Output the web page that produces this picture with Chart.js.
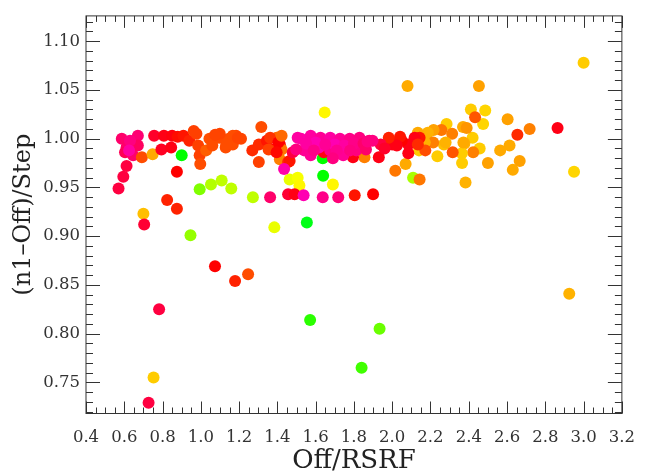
<!DOCTYPE html>
<html><head><meta charset="utf-8">
<script src="https://cdn.jsdelivr.net/npm/chart.js@4"></script>
<style>html,body{margin:0;padding:0;background:#fff}</style>
</head><body>
<canvas id="c" width="649" height="475"></canvas>
<script>
// Off/RSRF (x)
const offRsrf = [
 1.637,0.90,0.994,1.053,1.109,1.159,1.272,1.464,1.506,1.515,1.639,1.69,1.384,1.554,1.571,1.934,1.84,0.946,2.109,
 2.0,2.08,2.453,3.0,2.95,2.925,2.411,2.486,2.475,2.603,2.718,2.613,2.564,2.666,2.63,2.50,2.365,2.383,2.07,2.016,2.143,
 2.284,2.37,2.257,2.216,2.313,2.42,2.377,2.457,2.423,2.236,2.27,2.364,2.279,2.372,2.389,2.186,2.186,2.214,2.14,2.17,2.134,
 2.316,2.173,2.433,2.654,2.864,
 2.143,2.117,2.084,2.05,2.0,2.134,2.041,2.024,1.982,2.084,1.93,1.94,1.96,
 0.57,0.595,0.612,0.587,0.671,0.612,0.604,0.646,0.671,0.63,0.625,0.692,0.748,0.70,0.704,0.753,0.727,0.782,
 0.756,0.807,0.85,0.794,0.845,0.879,0.909,0.94,0.977,0.986,0.994,0.997,1.028,1.045,1.096,1.147,1.13,0.963,1.099,1.184,
 1.167,1.06,1.075,0.875,0.824,0.875,1.074,1.179,1.247,
 1.316,1.167,1.133,1.193,1.21,1.269,1.303,1.345,1.396,1.413,1.379,1.422,1.303,1.413,1.456,1.362,1.405,1.422,1.354,1.396,1.464,
 1.804,1.90,1.855,1.642,1.795,1.647,
 1.48,1.435,1.362,1.456,1.49,1.537,1.637,1.718,
 1.524,1.574,1.625,1.676,1.727,1.778,1.829,1.88,1.54,1.617,1.676,1.744,1.812,1.863,1.498,1.506,1.574,1.70,1.60,1.55,1.65,
 1.75,1.80,1.85,1.78,1.71,1.59,1.69,1.897,1.871
];
// (n1-Off)/Step (y)
const ratio = [
 0.980,0.983,0.948,0.953,0.957,0.949,0.940,0.958,0.960,0.952,0.962,0.953,0.909,0.914,0.814,0.805,0.765,0.901,0.960,
 0.994,1.054,1.054,1.078,0.966,0.841,1.030,1.029,1.015,1.020,1.010,0.993,0.988,0.977,0.968,0.975,0.975,0.955,0.974,0.967,0.958,
 1.015,1.012,1.009,1.009,1.005,1.001,0.995,0.990,0.986,0.982,0.994,0.985,0.996,0.996,1.011,0.998,1.006,0.996,0.988,0.996,1.006,
 0.986,0.988,1.022,1.004,1.011,
 1.001,1.001,0.994,0.998,0.996,0.994,1.002,0.993,1.001,0.985,0.981,0.994,0.990,
 0.949,0.961,0.972,1.000,1.003,0.991,0.986,0.983,0.993,0.998,0.988,0.981,0.984,0.923,0.912,0.755,0.729,0.825,
 1.003,1.003,1.003,0.989,0.991,1.002,1.003,0.998,1.005,0.993,0.983,0.974,0.988,1.000,1.001,1.000,0.991,1.008,1.005,1.003,
 0.994,0.993,1.004,0.966,0.937,0.928,0.869,0.854,0.861,
 1.012,1.003,0.994,1.001,1.000,0.988,0.994,0.998,1.001,0.994,0.989,0.989,0.976,0.979,0.976,1.001,0.996,1.003,0.989,0.986,0.977,
 0.942,0.943,0.981,0.986,0.981,1.027,
 0.986,0.969,0.940,0.943,0.943,0.942,0.940,0.940,
 1.000,1.003,1.001,1.001,1.000,1.000,1.001,0.998,0.988,0.991,0.988,0.983,0.988,0.989,0.989,1.001,0.983,0.994,0.996,0.995,0.994,
 0.993,0.995,0.995,0.988,0.988,0.988,0.980,0.998,0.997
];
// colour quantity (hue, degrees)
const colourHue = [
 120,120,90,78,75,75,75,65,62,58,120,58,65,125,110,95,105,85,80,
 355,40,38,48,50,42,48,50,50,38,30,40,40,38,40,38,48,42,40,28,28,
 48,40,28,38,30,48,42,48,30,48,45,48,42,40,35,40,42,30,48,42,40,
 20,18,20,10,355,
 5,355,355,0,355,10,5,355,8,355,355,345,350,
 345,345,345,335,333,335,340,335,338,330,322,18,40,45,348,48,345,345,
 350,355,357,352,355,3,5,8,15,15,15,18,22,18,18,18,18,15,16,16,
 18,18,16,0,8,8,0,8,18,
 18,18,18,16,16,10,10,5,25,0,2,28,15,30,10,12,0,25,15,2,5,
 5,0,30,355,355,58,
 345,320,335,348,355,318,328,332,
 320,322,325,322,325,328,330,332,325,320,328,325,330,335,330,322,325,318,318,322,325,
 322,328,335,330,326,328,330,330,330
];
const xTickValues = [0.4,0.6,0.8,1.0,1.2,1.4,1.6,1.8,2.0,2.2,2.4,2.6,2.8,3.0,3.2];
const yTickValues = [0.75,0.80,0.85,0.90,0.95,1.00,1.05,1.10];

const points = offRsrf.map((x, i) => ({x: x, y: ratio[i]}));
const colours = colourHue.map(h => `hsl(${h},100%,50%)`);

const FONT = "'DejaVu Serif', serif";
const INK = '#333';

const frameTicks = {
  id: 'frameTicks',
  afterDraw(chart) {
    const {ctx, chartArea: a, scales: {x, y}} = chart;
    ctx.save();
    ctx.strokeStyle = INK;
    ctx.lineWidth = 1;
    ctx.beginPath();
    for (let k = 0; k <= 56; k++) {
      const v = 0.4 + k * 0.05;
      const px = Math.round(x.getPixelForValue(v)) + 0.5;
      const len = (k % 4 === 0) ? 12 : 6;
      ctx.moveTo(px, a.bottom); ctx.lineTo(px, a.bottom - len);
      ctx.moveTo(px, a.top); ctx.lineTo(px, a.top + len);
    }
    for (let k = 72; k <= 112; k++) {
      const v = k / 100;
      const py = Math.round(y.getPixelForValue(v)) + 0.5;
      const len = (k % 5 === 0) ? 14 : 7;
      ctx.moveTo(a.left, py); ctx.lineTo(a.left + len, py);
      ctx.moveTo(a.right, py); ctx.lineTo(a.right - len, py);
    }
    ctx.stroke();
    ctx.strokeRect(a.left, a.top, a.right - a.left, a.bottom - a.top);
    ctx.restore();
  }
};

new Chart(document.getElementById('c'), {
  type: 'scatter',
  data: { datasets: [{
    data: points,
    pointBackgroundColor: colours,
    pointBorderWidth: 0,
    pointRadius: 6,
    pointHoverRadius: 6
  }]},
  options: {
    responsive: false,
    devicePixelRatio: 1,
    animation: false,
    events: [],
    layout: { padding: { top: 9.5, right: 13, left: 0, bottom: 0 } },
    plugins: { legend: { display: false }, tooltip: { enabled: false } },
    scales: {
      x: {
        type: 'linear', min: 0.4, max: 3.2,
        afterBuildTicks: s => { s.ticks = xTickValues.map(v => ({value: v})); },
        afterFit: s => { s.height = 61.5; },
        grid: { display: false, drawTicks: false },
        border: { display: false },
        ticks: { autoSkip: false, maxRotation: 0, padding: 14, color: INK,
                 font: { family: FONT, size: 16.5 },
                 callback: v => Number(v).toFixed(1) },
        title: { display: true, text: 'Off/RSRF', color: '#222',
                 font: { family: FONT, size: 26, lineHeight: 1 }, padding: { top: 0, bottom: 1 } }
      },
      y: {
        type: 'linear', min: 0.718, max: 1.126,
        afterBuildTicks: s => { s.ticks = yTickValues.map(v => ({value: v})); },
        afterFit: s => { s.width = 86; },
        grid: { display: false, drawTicks: false },
        border: { display: false },
        ticks: { autoSkip: false, padding: 6, color: INK,
                 font: { family: FONT, size: 16.5 },
                 callback: v => Number(v).toFixed(2) },
        title: { display: true, text: '(n1–Off)/Step', color: '#222',
                 font: { family: FONT, size: 24, lineHeight: 1 }, padding: { top: 12, bottom: 0 } }
      }
    }
  },
  plugins: [frameTicks]
});
</script>
</body></html>
